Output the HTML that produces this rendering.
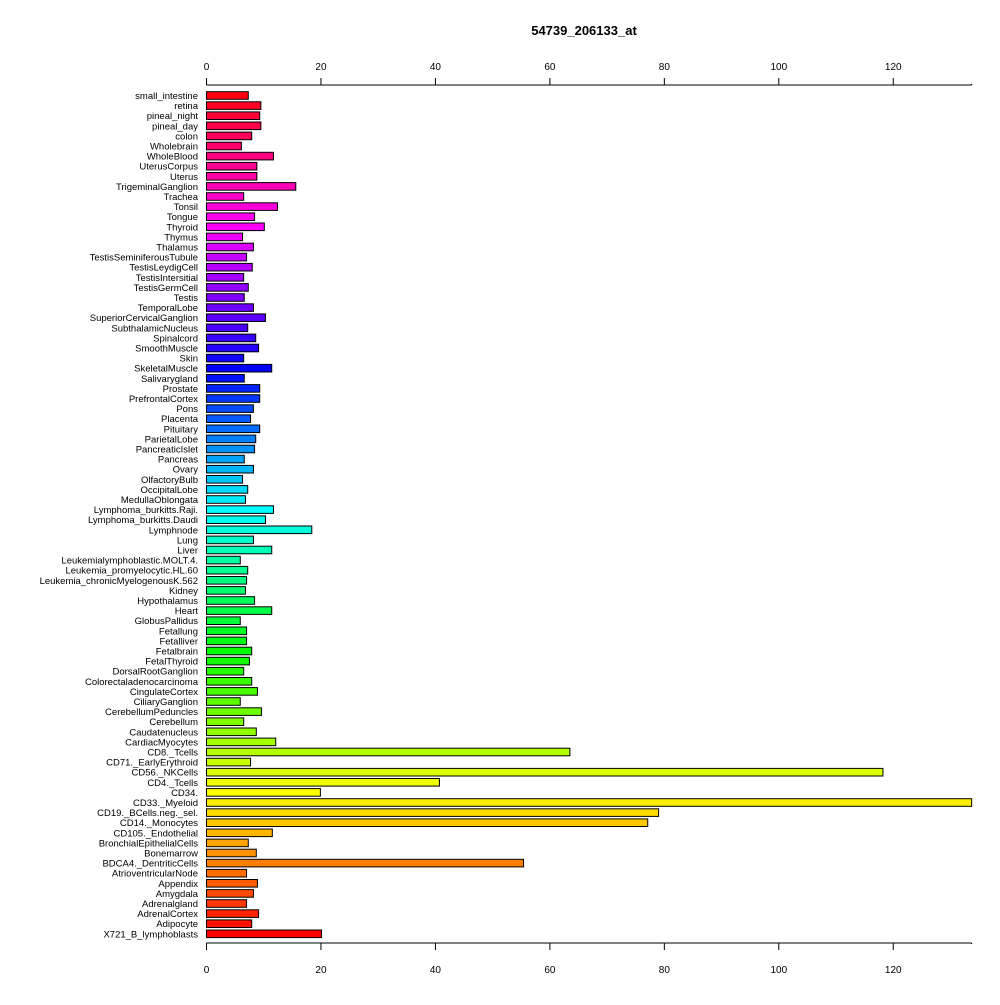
<!DOCTYPE html>
<html><head><meta charset="utf-8"><style>
body{margin:0;background:#fff}
svg{font-family:"Liberation Sans",Arial,sans-serif}
</style></head><body>
<svg id="c" width="1000" height="1000">
<text x="584" y="35" text-anchor="middle" font-weight="bold" font-size="13">54739_206133_at</text>
</svg>
<script>
const categories=["small_intestine","retina","pineal_night","pineal_day","colon","Wholebrain","WholeBlood","UterusCorpus","Uterus","TrigeminalGanglion","Trachea","Tonsil","Tongue","Thyroid","Thymus","Thalamus","TestisSeminiferousTubule","TestisLeydigCell","TestisIntersitial","TestisGermCell","Testis","TemporalLobe","SuperiorCervicalGanglion","SubthalamicNucleus","Spinalcord","SmoothMuscle","Skin","SkeletalMuscle","Salivarygland","Prostate","PrefrontalCortex","Pons","Placenta","Pituitary","ParietalLobe","PancreaticIslet","Pancreas","Ovary","OlfactoryBulb","OccipitalLobe","MedullaOblongata","Lymphoma_burkitts.Raji.","Lymphoma_burkitts.Daudi","Lymphnode","Lung","Liver","Leukemialymphoblastic.MOLT.4.","Leukemia_promyelocytic.HL.60","Leukemia_chronicMyelogenousK.562","Kidney","Hypothalamus","Heart","GlobusPallidus","Fetallung","Fetalliver","Fetalbrain","FetalThyroid","DorsalRootGanglion","Colorectaladenocarcinoma","CingulateCortex","CiliaryGanglion","CerebellumPeduncles","Cerebellum","Caudatenucleus","CardiacMyocytes","CD8._Tcells","CD71._EarlyErythroid","CD56._NKCells","CD4._Tcells","CD34.","CD33._Myeloid","CD19._BCells.neg._sel.","CD14._Monocytes","CD105._Endothelial","BronchialEpithelialCells","Bonemarrow","BDCA4._DentriticCells","AtrioventricularNode","Appendix","Amygdala","Adrenalgland","AdrenalCortex","Adipocyte","X721_B_lymphoblasts"];
const values=[7.3,9.5,9.3,9.5,7.9,6.1,11.7,8.8,8.8,15.6,6.5,12.4,8.4,10.1,6.3,8.2,7.0,8.0,6.5,7.3,6.6,8.2,10.3,7.2,8.6,9.1,6.5,11.4,6.6,9.3,9.3,8.2,7.7,9.3,8.6,8.4,6.6,8.2,6.3,7.2,6.8,11.7,10.3,18.4,8.2,11.4,5.9,7.2,7.0,6.8,8.4,11.4,5.9,7.0,7.0,7.9,7.5,6.5,7.9,8.9,5.9,9.6,6.5,8.7,12.1,63.5,7.7,118.2,40.7,19.9,133.7,79.0,77.1,11.5,7.3,8.7,55.4,7.0,8.9,8.2,7.0,9.1,7.9,20.1];
const ticks=[0,20,40,60,80,100,120];
const NS="http://www.w3.org/2000/svg";
const svg=document.getElementById('c');
const x0=206.5,pxPer=5.723,yTop=95.5,step=10.1,bh=7.6,xMax=133.7;
const xs=v=>x0+v*pxPer;
const ys=i=>yTop+i*step;
function mk(t,a){const e=document.createElementNS(NS,t);for(const k in a)e.setAttribute(k,a[k]);svg.appendChild(e);return e;}
const n=categories.length;
categories.forEach((c,i)=>{
  const hue=((n-1-i)/n)*360;
  const r=mk('rect',{x:xs(0),y:ys(i)-bh/2,width:xs(values[i])-xs(0),height:bh,fill:`hsl(${hue},100%,50%)`,stroke:'#000','stroke-width':1});
  
  
  const t=mk('text',{x:198,y:ys(i)+3.5,'text-anchor':'end','font-size':9.5});
  t.textContent=c;
  
  
});
[[85,-1,67],[943,1,970]].forEach(([ly,d,ty],k)=>{
  const l=mk('line',{x1:xs(0),x2:xs(xMax),y1:ly,y2:ly,stroke:'#000'});
  
  
  ticks.concat([xMax]).forEach((v,j)=>{
    const tk=mk('line',{x1:xs(v),x2:xs(v),y1:ly,y2:ly+d*(j<ticks.length?7:1),stroke:'#000'});
    
    
  });
  ticks.forEach(v=>{
    const t=mk('text',{x:xs(v),y:ty+3,'text-anchor':'middle','font-size':10});
    t.textContent=v;
    
    
  });
});
</script>
</body></html>
